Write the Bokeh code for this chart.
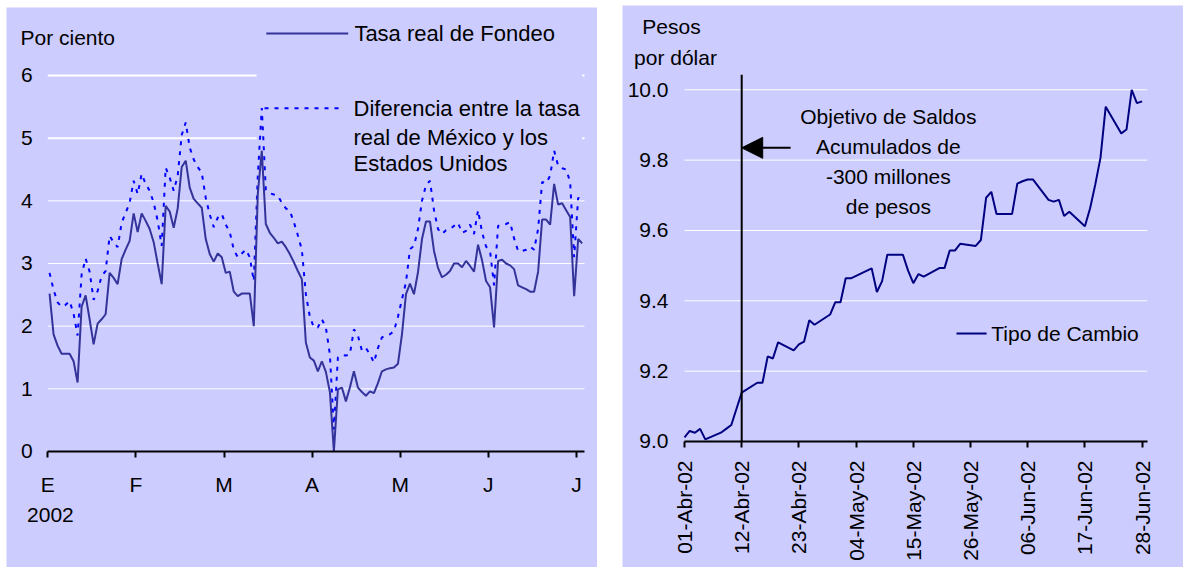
import math
import pandas as pd
from bokeh.plotting import figure
from bokeh.layouts import row, column
from bokeh.models import (Range1d, FixedTicker, Label, Arrow, NormalHead, Spacer,
                          PrintfTickFormatter)
from bokeh.embed import file_html
from bokeh.resources import INLINE

# ---------------- data ----------------
meses = ["E", "F", "M", "A", "M", "J", "J"]
anio = "2002"

tasa_fondeo = [
    2.52, 1.87, 1.69, 1.56, 1.56, 1.56, 1.44, 1.10, 2.31, 2.49,
    2.11, 1.71, 2.04, 2.11, 2.19, 2.85, 2.77, 2.67, 3.07, 3.22,
    3.36, 3.80, 3.50, 3.80, 3.68, 3.55, 3.34, 3.00, 2.67, 3.92,
    3.83, 3.57, 3.88, 4.54, 4.64, 4.21, 4.03, 3.96, 3.89, 3.39,
    3.15, 3.03, 3.16, 3.10, 2.85, 2.87, 2.55, 2.48, 2.52, 2.52,
    2.52, 2.00, 4.11, 4.80, 3.63, 3.49, 3.41, 3.32, 3.35, 3.26,
    3.15, 3.02, 2.88, 2.75, 1.74, 1.50, 1.45, 1.28, 1.44, 1.27,
    0.95, 0.00, 0.99, 1.02, 0.80, 1.02, 1.28, 1.02, 0.95, 0.89,
    0.96, 0.93, 1.09, 1.28, 1.31, 1.33, 1.34, 1.40, 1.87, 2.51,
    2.68, 2.51, 2.86, 3.39, 3.67, 3.67, 3.20, 2.93, 2.78, 2.82,
    2.88, 3.00, 3.00, 2.94, 3.04, 2.96, 2.87, 3.30, 3.05, 2.72,
    2.62, 1.98, 3.04, 3.06, 3.00, 2.97, 2.91, 2.65, 2.62, 2.59,
    2.55, 2.55, 2.87, 3.70, 3.70, 3.62, 4.27, 3.94, 3.96, 3.85,
    3.74, 2.48, 3.39, 3.32,
]

diferencia = [
    2.85, 2.58, 2.38, 2.31, 2.34, 2.40, 2.20, 1.85, 2.82, 3.08,
    2.87, 2.42, 2.56, 2.80, 2.88, 3.44, 3.34, 3.26, 3.65, 3.81,
    3.97, 4.32, 4.11, 4.43, 4.27, 4.16, 3.97, 3.68, 3.28, 4.53,
    4.37, 4.16, 4.40, 5.05, 5.25, 4.85, 4.66, 4.54, 4.45, 4.05,
    3.78, 3.58, 3.73, 3.79, 3.62, 3.50, 3.22, 3.10, 3.16, 3.22,
    3.10, 2.72, 4.40, 5.48, 4.18, 4.12, 4.10, 4.08, 3.97, 3.88,
    3.84, 3.66, 3.45, 3.22, 2.51, 2.15, 1.98, 1.98, 2.11, 1.98,
    1.55, 0.35, 1.50, 1.54, 1.53, 1.55, 1.95, 1.85, 1.61, 1.65,
    1.55, 1.42, 1.65, 1.82, 1.85, 1.87, 1.92, 2.15, 2.43, 2.70,
    3.23, 3.28, 3.55, 4.00, 4.25, 4.32, 3.85, 3.55, 3.47, 3.53,
    3.55, 3.60, 3.65, 3.49, 3.52, 3.62, 3.47, 3.85, 3.50, 3.27,
    3.20, 2.65, 3.60, 3.62, 3.63, 3.66, 3.40, 3.20, 3.20, 3.22,
    3.27, 3.22, 3.55, 4.30, 4.28, 4.40, 4.80, 4.56, 4.52, 4.50,
    4.30, 3.10, 4.05, 4.00,
]

fechas = [
    "2002-04-01", "2002-04-02", "2002-04-03", "2002-04-04", "2002-04-05",
    "2002-04-08", "2002-04-09", "2002-04-10", "2002-04-11", "2002-04-12",
    "2002-04-15", "2002-04-16", "2002-04-17", "2002-04-18", "2002-04-19",
    "2002-04-22", "2002-04-23", "2002-04-24", "2002-04-25", "2002-04-26",
    "2002-04-29", "2002-04-30", "2002-05-01", "2002-05-02", "2002-05-03",
    "2002-05-06", "2002-05-07", "2002-05-08", "2002-05-09", "2002-05-10",
    "2002-05-13", "2002-05-14", "2002-05-15", "2002-05-16", "2002-05-17",
    "2002-05-20", "2002-05-21", "2002-05-22", "2002-05-23", "2002-05-24",
    "2002-05-27", "2002-05-28", "2002-05-29", "2002-05-30", "2002-05-31",
    "2002-06-03", "2002-06-04", "2002-06-05", "2002-06-06", "2002-06-07",
    "2002-06-10", "2002-06-11", "2002-06-12", "2002-06-13", "2002-06-14",
    "2002-06-17", "2002-06-18", "2002-06-19", "2002-06-20", "2002-06-21",
    "2002-06-24", "2002-06-25", "2002-06-26", "2002-06-27", "2002-06-28",
]

tipo_cambio = [
    9.012, 9.030, 9.025, 9.036, 9.006,
    9.025, 9.036, 9.047, 9.093, 9.139,
    9.167, 9.167, 9.242, 9.236, 9.282,
    9.259, 9.276, 9.284, 9.345, 9.332,
    9.361, 9.396, 9.396, 9.464, 9.464,
    9.485, 9.492, 9.425, 9.456, 9.531,
    9.531, 9.486, 9.450, 9.476, 9.469,
    9.493, 9.493, 9.543, 9.543, 9.562,
    9.556, 9.573, 9.693, 9.710, 9.647,
    9.647, 9.733, 9.740, 9.745, 9.745,
    9.687, 9.682, 9.687, 9.641, 9.653,
    9.612, 9.663, 9.731, 9.807, 9.952,
    9.876, 9.887, 10.000, 9.962, 9.967,
]

fechas_ticks = ["01-Abr-02", "12-Abr-02", "23-Abr-02", "04-May-02", "15-May-02",
                "26-May-02", "06-Jun-02", "17-Jun-02", "28-Jun-02"]
fecha_objetivo = "2002-04-12"

# ---------------- styles ----------------
FONT = "Liberation Sans"
FS = "21px"
FS_LEG = "22px"
BG = "#CCCCFF"


def style_fig(p):
    p.background_fill_color = BG
    p.border_fill_color = BG
    p.outline_line_color = None
    p.xgrid.visible = False
    p.ygrid.visible = False
    for ax in (p.xaxis[0], p.yaxis[0]):
        ax.major_label_text_font = FONT
        ax.major_label_text_font_size = FS
        ax.major_label_text_color = "black"
        ax.minor_tick_in = 0
        ax.minor_tick_out = 0


def add_label(p, x, y, text, align="left", size=FS):
    p.add_layout(Label(x=x, y=y, text=text, text_align=align, text_baseline="middle",
                       text_font=FONT, text_font_size=size, text_color="black"))


# ---------------- left panel ----------------
x_end1 = 6.092
n1 = len(tasa_fondeo)
x_left = [0.02 + i / 22.0 for i in range(n1)]

p1 = figure(width=591, height=560, x_range=Range1d(-0.4688, 6.2395),
            y_range=Range1d(-1.851, 7.0847),
            toolbar_location=None, output_backend="svg", min_border=0)
style_fig(p1)

full_levels = [1, 2, 3, 4]
part_levels = [5, 6]
p1.segment(x0=[0] * len(full_levels), y0=full_levels, x1=[x_end1] * len(full_levels),
           y1=full_levels, line_color="white", line_width=1)
p1.segment(x0=[0] * len(part_levels), y0=part_levels, x1=[2.37] * len(part_levels),
           y1=part_levels, line_color="white", line_width=2)
p1.segment(x0=[6.065] * len(part_levels), y0=part_levels, x1=[x_end1] * len(part_levels),
           y1=part_levels, line_color="white", line_width=2)

p1.line(x_left, diferencia, line_color="#0000FF", line_width=2, line_dash="4 6")
p1.line(x_left, tasa_fondeo, line_color="#333399", line_width=2)

xa = p1.xaxis[0]
xa.fixed_location = 0
xa.bounds = (0, x_end1)
xa.ticker = FixedTicker(ticks=list(range(len(meses))))
xa.major_label_overrides = {i: m for i, m in enumerate(meses)}
xa.axis_line_color = "black"
xa.axis_line_width = 2
xa.major_tick_line_color = "black"
xa.major_tick_line_width = 2
xa.major_tick_in = 0
xa.major_tick_out = 6
xa.major_label_standoff = 16

ya = p1.yaxis[0]
ya.fixed_location = 0
ya.bounds = (0, 6)
ya.ticker = FixedTicker(ticks=[0, 1, 2, 3, 4, 5, 6])
ya.axis_line_color = None
ya.major_tick_line_color = None
ya.major_tick_in = 0
ya.major_tick_out = 0
ya.major_label_standoff = 15

add_label(p1, -0.31, 6.606, "Por ciento")
add_label(p1, 0.03, -1.02, anio, align="center")

# legend (left)
p1.line([2.48, 3.41], [6.67, 6.67], line_color="#333399", line_width=2)
add_label(p1, 3.48, 6.67, "Tasa real de Fondeo", size=FS_LEG)
p1.line([2.46, 3.36], [5.478, 5.478], line_color="#0000FF", line_width=2, line_dash="4 6")
add_label(p1, 3.47, 5.473, "Diferencia entre la tasa", size=FS_LEG)
add_label(p1, 3.47, 5.018, "real de México y los", size=FS_LEG)
add_label(p1, 3.47, 4.588, "Estados Unidos", size=FS_LEG)

# ---------------- right panel ----------------
t0 = pd.Timestamp(fechas[0])
dias = [(pd.Timestamp(f) - t0).days for f in fechas]
dia_obj = (pd.Timestamp(fecha_objetivo) - t0).days
tick_dias = [11 * k for k in range(len(fechas_ticks))]
x_end2 = 89
grid2 = [9.2, 9.4, 9.6, 9.8, 10.0]

p2 = figure(width=561, height=562, x_range=Range1d(-11.923, 95.96),
            y_range=Range1d(8.6417, 10.2397),
            toolbar_location=None, output_backend="svg", min_border=0)
style_fig(p2)

p2.segment(x0=[0] * len(grid2), y0=grid2, x1=[x_end2] * len(grid2), y1=grid2,
           line_color="white", line_width=1)

p2.line(dias, tipo_cambio, line_color="#000080", line_width=2)

p2.segment(x0=[dia_obj], y0=[9.0], x1=[dia_obj], y1=[10.043], line_color="black", line_width=2)
p2.add_layout(Arrow(end=NormalHead(size=21, fill_color="black", line_color="black"),
                    x_start=20.4, y_start=9.835, x_end=dia_obj, y_end=9.835,
                    line_color="black", line_width=2))

xb = p2.xaxis[0]
xb.fixed_location = 9.0
xb.bounds = (0, x_end2)
xb.ticker = FixedTicker(ticks=tick_dias)
xb.major_label_overrides = {d: s for d, s in zip(tick_dias, fechas_ticks)}
xb.major_label_orientation = math.pi / 2
xb.axis_line_color = "black"
xb.axis_line_width = 2
xb.major_tick_line_color = "black"
xb.major_tick_line_width = 2
xb.major_tick_in = 0
xb.major_tick_out = 6
xb.major_label_standoff = 13

yb = p2.yaxis[0]
yb.fixed_location = 0
yb.bounds = (9.0, 10.0)
yb.ticker = FixedTicker(ticks=[9.0, 9.2, 9.4, 9.6, 9.8, 10.0])
yb.formatter = PrintfTickFormatter(format="%.1f")
yb.axis_line_color = None
yb.major_tick_line_color = None
yb.major_tick_in = 0
yb.major_tick_out = 0
yb.major_label_standoff = 16

add_label(p2, -2.5, 10.18, "Pesos", align="center")
add_label(p2, -1.73, 10.093, "por dólar", align="center")

for txt, yy in zip(["Objetivo de Saldos", "Acumulados de", "-300 millones", "de pesos"],
                   [9.924, 9.839, 9.754, 9.668]):
    add_label(p2, 39.2, yy, txt, align="center")

p2.line([52.3, 58.1], [9.307, 9.307], line_color="#000080", line_width=2)
add_label(p2, 59.0, 9.307, "Tipo de Cambio")

layout = row(Spacer(width=6, height=567),
             column(Spacer(width=591, height=7), p1),
             Spacer(width=25, height=567),
             column(Spacer(width=561, height=5), p2))

open("out.html", "w").write(file_html(layout, INLINE))
